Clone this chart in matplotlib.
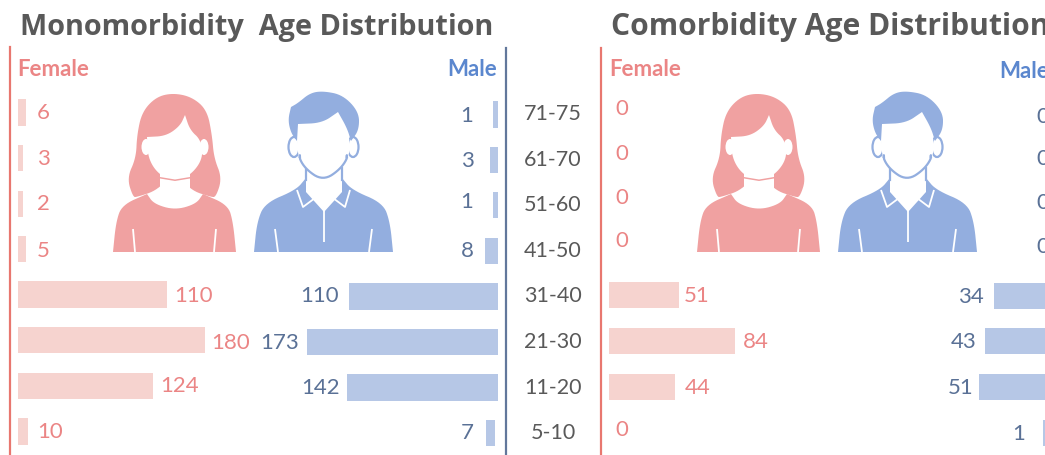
import numpy as np
import matplotlib
matplotlib.use('Agg')
import matplotlib.pyplot as plt
from matplotlib.patches import Polygon, Ellipse

plt.rcParams['font.family'] = ['Lato', 'DejaVu Sans']

# ages, top to bottom
ages = ['71-75', '61-70', '51-60', '41-50', '31-40', '21-30', '11-20', '5-10']

# counts printed next to the bars
mono_female = [6, 3, 2, 5, 110, 180, 124, 10]
mono_male = [1, 3, 1, 8, 110, 173, 142, 7]
como_female = [0, 0, 0, 0, 51, 84, 44, 0]
como_male = [0, 0, 0, 0, 34, 43, 51, 1]

# the bars in the picture are not to scale with the counts, so their lengths are read separately
mono_female_len = [8, 5, 5, 8, 149, 187, 135, 10]
mono_male_len = [5, 8, 5, 13, 149, 191, 151, 9]
como_female_len = [0, 0, 0, 0, 70, 126, 66, 0]
como_male_len = [0, 0, 0, 0, 56, 65, 71, 7]

RED = '#EB8585'
RED_BAR = '#F6D3CF'
RED_LINE = '#E8776F'
RED_ICON = '#F0A1A1'
BLUE = '#5A7196'
BLUE_BAR = '#B6C7E6'
BLUE_HEAD = '#5B87CE'
BLUE_LINE = '#62779B'
BLUE_ICON = '#93AEDF'
GREY = '#595959'

fig = plt.figure(figsize=(10.45, 4.55), dpi=100)
ax = fig.add_axes([0, 0, 1, 1])
ax.set_xlim(0, 1045)
ax.set_ylim(455, 0)
ax.axis('off')


def smooth(pts, n=3):
    # corner cutting, closed outline. repeat a point to keep a sharp corner
    p = np.array(pts, dtype=float)
    for _ in range(n):
        q = np.roll(p, -1, axis=0)
        p = np.column_stack([0.75 * p + 0.25 * q, 0.25 * p + 0.75 * q]).reshape(-1, 2)
    return p


def blob(pts, color, z, dx, smoothit=True):
    p = smooth(pts) if smoothit else np.array(pts, dtype=float)
    ax.add_patch(Polygon(p + [dx, 0], closed=True, fc=color, ec='none', zorder=z))


def white_line(x, y, dx, z, lw=1.3):
    ax.plot(np.array(x) + dx, y, color='white', lw=lw, zorder=z, solid_capstyle='butt')


def woman(dx):
    hair = [(173, 93), (192, 97), (207, 110), (212, 135), (214, 158), (222, 178), (216, 197), (211, 197),
            (190, 190), (175, 170), (158, 190), (137, 197), (133, 197), (127, 178), (136, 158),
            (137, 135), (142, 112), (156, 97)]
    blob(hair, RED_ICON, 3, dx)
    face = [(147, 137), (147, 137), (166, 136), (180, 126), (185, 115), (185, 115), (190, 130), (201, 140),
            (203, 158), (192, 174), (175, 182), (158, 174), (148, 158)]
    blob(face, 'white', 5, dx)
    ax.add_patch(Ellipse((146 + dx, 147), 9, 16, fc='white', zorder=5))
    ax.add_patch(Ellipse((204 + dx, 147), 9, 16, fc='white', zorder=5))
    blob([(160, 170), (190, 170), (190, 195), (160, 195)], 'white', 4, dx, False)
    blob([(160, 177), (175, 179.5), (190, 177), (190, 178.5), (175, 181), (160, 178.5)], RED_ICON, 6, dx, False)
    body = [(113, 252), (113, 252), (113, 252), (116, 222), (122, 205), (147, 194), (147, 194), (154, 204), (175, 210),
            (196, 204), (203, 194), (203, 194), (228, 205), (233, 222), (236, 252), (236, 252), (236, 252)]
    blob(body, RED_ICON, 7, dx)
    white_line([133, 135], [229, 252], dx, 8)
    white_line([216, 214], [229, 252], dx, 8)


def man(dx):
    body = [(254, 252), (254, 252), (254, 252), (257, 222), (265, 203), (296, 190), (306, 178), (306, 178),
            (342, 178), (342, 178), (352, 190), (383, 203), (390, 222), (393, 252), (393, 252), (393, 252)]
    blob(body, BLUE_ICON, 3, dx)
    blob([(306, 175), (342, 175), (342, 192), (324, 212), (306, 192)], 'white', 4, dx, False)
    white_line([297, 303, 315], [190, 207, 198], dx, 5)
    white_line([350, 345, 333], [190, 207, 198], dx, 5)
    white_line([324, 324], [209, 242], dx, 5)
    white_line([275, 278], [229, 252], dx, 5)
    white_line([372, 369], [229, 252], dx, 5)
    ax.plot(np.array([306, 306]) + dx, [168, 180], color=BLUE_ICON, lw=1.6, zorder=6)
    ax.plot(np.array([342, 342]) + dx, [168, 180], color=BLUE_ICON, lw=1.6, zorder=6)
    ax.add_patch(Ellipse((294 + dx, 147), 11, 20, fc='white', ec=BLUE_ICON, lw=1.6, zorder=6))
    ax.add_patch(Ellipse((353 + dx, 147), 11, 20, fc='white', ec=BLUE_ICON, lw=1.6, zorder=6))
    face = [(297, 122), (320, 118), (338, 110), (349, 132), (350, 155), (341, 170), (323, 180),
            (306, 170), (297, 155)]
    blob(face, 'white', 7, dx)
    jaw = smooth([(297, 152), (304, 168), (323, 181), (342, 168), (350, 152), (323, 140)])
    jaw = jaw[(jaw[:, 1] > 154)]
    jaw = jaw[np.argsort(jaw[:, 0])]
    ax.plot(jaw[:, 0] + dx, jaw[:, 1], color=BLUE_ICON, lw=1.6, zorder=8)
    hair = [(323, 91), (343, 95), (359, 112), (359, 130), (351, 141), (351, 141), (347, 128), (338, 112), (338, 112),
            (322, 123), (298, 124), (298, 124), (297, 141), (297, 141), (291, 133), (288, 120), (291, 107), (291, 107),
            (298, 103), (310, 93)]
    blob(hair, BLUE_ICON, 8, dx)


# row centres differ a little between the four groups in the original
y_fem = [112.5, 158, 204, 249, 294.5, 340, 386, 431.5]
y_male = [114.5, 160, 205, 251, 296.5, 342, 387.5, 433]
y_fem2 = [108, 153, 197, 240, 295, 341, 387, 429]
y_male2 = [116, 158, 202, 246, 296, 341, 387, 433]

# left bars
male_base = [497.5] * 7 + [495]
ax.barh(y_fem, mono_female_len, left=18, height=26.5, color=RED_BAR, zorder=2)
ax.barh(y_male, -np.array(mono_male_len), left=male_base, height=26.5, color=BLUE_BAR, zorder=2)
# right bars
ax.barh(y_fem2, como_female_len, left=609, height=26.5, color=RED_BAR, zorder=2)
ax.barh(y_male2, -np.array(como_male_len), left=1050, height=26.5, color=BLUE_BAR, zorder=2)

# value labels
x_fem = [43, 43, 43, 43, 194, 231, 180, 50]
x_male = [467, 467, 467, 467, 320, 280, 321, 467]
x_fem2 = [622, 622, 622, 622, 697, 756, 698, 622]
x_male2 = [1043, 1043, 1043, 1043, 971, 964, 961, 1019]
ty_fem = [112, 158, 203, 250, 295, 342, 385, 431]
ty_male = [115, 160, 201, 250, 295, 342, 387, 432]
for i in range(8):
    ax.text(x_fem[i], ty_fem[i] + 1, str(mono_female[i]), color=RED, fontsize=16, ha='center', va='center')
    ax.text(x_male[i], ty_male[i] + 1, str(mono_male[i]), color=BLUE, fontsize=16, ha='center', va='center')
    ax.text(x_fem2[i], y_fem2[i] + 1, str(como_female[i]), color=RED, fontsize=16, ha='center', va='center')
    ax.text(x_male2[i], y_male2[i] + 1, str(como_male[i]), color=BLUE, fontsize=16, ha='center', va='center')
    ax.text(553, y_male[i], ages[i], color=GREY, fontsize=15.5, ha='center', va='center')

# axis lines
ax.plot([9.5, 9.5], [47, 455], color=RED_LINE, lw=1.6)
ax.plot([505.5, 505.5], [48, 455], color=BLUE_LINE, lw=1.6)
ax.plot([601, 601], [48, 455], color=RED_LINE, lw=1.6)

# headers
ax.text(17, 69, 'Female', color=RED, fontsize=16, fontweight='bold', va='center')
ax.text(497, 70, 'Male', color=BLUE_HEAD, fontsize=16, fontweight='bold', va='center', ha='right')
ax.text(609, 69, 'Female', color=RED, fontsize=16, fontweight='bold', va='center')
ax.text(999, 71, 'Male', color=BLUE_HEAD, fontsize=16, fontweight='bold', va='center')

# titles: original is letter spaced, a slightly bigger size gets the same width
ax.text(20, 35, 'Monomorbidity  Age Distribution', color=GREY, fontsize=20.8, fontweight='bold',
        family=['Open Sans', 'DejaVu Sans'], va='baseline')
ax.text(611, 35, 'Comorbidity Age Distribution', color=GREY, fontsize=21.6, fontweight='bold',
        family=['Open Sans', 'DejaVu Sans'], va='baseline')

woman(0)
man(0)
woman(584)
man(584)

fig.savefig('out.png', dpi=100)
